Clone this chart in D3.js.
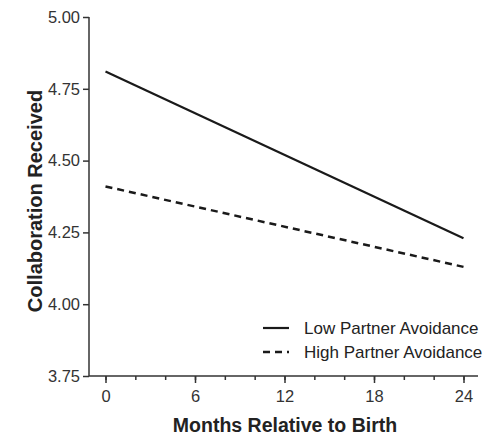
<!DOCTYPE html>
<meta charset="utf-8">
<head>
  <title>Collaboration Received</title>
  <script src="https://d3js.org/d3.v7.min.js"></script>
  <style>
    body {
      margin: 0;
      background-color: white;
      font-family: "Liberation Sans", Arial, Helvetica, sans-serif;
    }
    .axis path, .axis line {
      stroke: #333;
      stroke-width: 1.5;
    }
    .axis text {
      font-family: "Liberation Sans", Arial, sans-serif;
      font-size: 16.5px;
      fill: #333;
    }
    .title {
      font-family: "Liberation Sans", Arial, sans-serif;
      font-size: 19.5px;
      font-weight: bold;
      fill: #222;
    }
    .legend text {
      font-family: "Liberation Sans", Arial, sans-serif;
      font-size: 17px;
      fill: #222;
    }
  </style>
</head>
<body>
<script>
  // months on the x axis
  var months = [0, 24];
  // fitted lines
  var lowAvoid = [4.81, 4.23];
  var highAvoid = [4.41, 4.13];
  var seriesNames = ["Low Partner Avoidance", "High Partner Avoidance"];
  var yTicks = [3.75, 4.00, 4.25, 4.50, 4.75, 5.00];
  var xTicks = [0, 6, 12, 18, 24];

  var margin = { top: 17, right: 12, bottom: 59, left: 89 };
  var width = 490 - margin.left - margin.right;
  var height = 435 - margin.top - margin.bottom;

  var svg = d3.select("body").append("svg")
    .attr("width", 490)
    .attr("height", 435)
    .append("g")
    .attr("transform", "translate(" + margin.left + "," + margin.top + ")");

  // x: 0 -> 105px, 24 -> 463px (page coords)
  var x = d3.scaleLinear()
    .domain([0, 24])
    .range([105.5 - margin.left, 463.5 - margin.left]);

  var y = d3.scaleLinear()
    .domain([3.75, 5.00])
    .range([height, 0]);

  // x axis line spans the whole plot
  svg.append("line")
    .attr("x1", 0).attr("x2", width)
    .attr("y1", height).attr("y2", height)
    .attr("stroke", "#333").attr("stroke-width", 1.5);

  // minor ticks every 2 months
  svg.append("g")
    .attr("class", "axis")
    .attr("transform", "translate(0," + height + ")")
    .call(d3.axisBottom(x).tickValues(d3.range(0, 25, 2)).tickSize(4).tickFormat(""))
    .call(function(g) { g.select(".domain").remove(); });

  svg.append("g")
    .attr("class", "x axis")
    .attr("transform", "translate(0," + height + ")")
    .call(d3.axisBottom(x).tickValues(xTicks).tickSize(7).tickPadding(7))
    .call(function(g) { g.select(".domain").remove(); });

  svg.append("g")
    .attr("class", "y axis")
    .call(d3.axisLeft(y).tickValues(yTicks).tickSize(6).tickPadding(3).tickFormat(d3.format(".2f")))
    .call(function(g) { g.select(".domain").attr("d", "M0,0V" + height); });

  var line = d3.line()
    .x(function(d, i) { return x(months[i]); })
    .y(function(d) { return y(d); });

  svg.append("path")
    .datum(lowAvoid)
    .attr("d", line)
    .attr("fill", "none")
    .attr("stroke", "#1a1a1a")
    .attr("stroke-width", 2.2);

  svg.append("path")
    .datum(highAvoid)
    .attr("d", line)
    .attr("fill", "none")
    .attr("stroke", "#1a1a1a")
    .attr("stroke-width", 2.5)
    .attr("stroke-dasharray", "7,5");

  // axis titles
  svg.append("text")
    .attr("class", "title")
    .attr("x", 285 - margin.left)
    .attr("y", 432 - margin.top)
    .attr("text-anchor", "middle")
    .text("Months Relative to Birth");

  svg.append("text")
    .attr("class", "title")
    .style("font-size", "20px")
    .attr("transform", "translate(" + (42 - margin.left) + "," + (201 - margin.top) + ") rotate(-90)")
    .attr("text-anchor", "middle")
    .text("Collaboration Received");

  // legend
  var legend = svg.append("g")
    .attr("class", "legend")
    .attr("transform", "translate(" + (263 - margin.left) + "," + (328 - margin.top) + ")");

  var items = legend.selectAll("g")
    .data(seriesNames)
    .enter().append("g")
    .attr("transform", function(d, i) { return "translate(0," + (i * 24) + ")"; });

  items.append("line")
    .attr("x1", 0).attr("x2", 26)
    .attr("y1", 0).attr("y2", 0)
    .attr("stroke", "#1a1a1a")
    .attr("stroke-width", function(d, i) { return i ? 2.5 : 2.2; })
    .attr("stroke-dasharray", function(d, i) { return i ? "7,5" : null; });

  items.append("text")
    .attr("x", 41)
    .attr("y", 6)
    .text(function(d) { return d; });
</script>
</body>
</html>
